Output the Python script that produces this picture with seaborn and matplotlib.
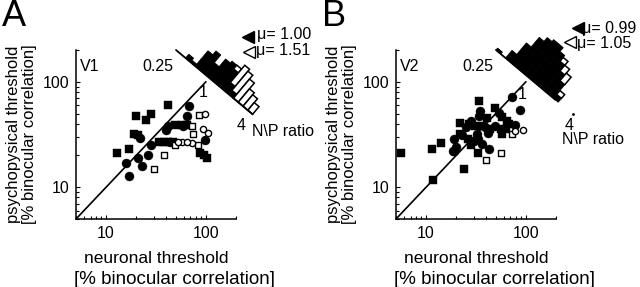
import numpy as np
import pandas as pd
import matplotlib
matplotlib.use("Agg")
import matplotlib.pyplot as plt
import seaborn as sns
from matplotlib.transforms import Affine2D
from matplotlib.ticker import FuncFormatter, NullFormatter, LogLocator

# ---- data --------------------------------------------------------------
# (neuronal threshold, psychophysical threshold) in % binocular correlation
v1_filled_sq = [(42, 60), (20, 47), (28, 50), (25, 43), (19, 32), (21, 31), (13, 21),
                (17, 23), (34, 27), (38, 27), (42, 27), (47, 27), (49, 39), (57, 39),
                (64, 39), (88, 21), (95, 20), (102, 19)]
v1_filled_ci = [(68, 59), (65, 47), (22, 29), (40, 35), (42, 38), (28, 25), (21, 19),
                (16, 17), (23, 16), (26, 20), (17, 12.7), (59, 38), (99, 28), (44, 27)]
v1_open_sq = [(85, 48), (72, 38), (75, 32), (49, 25), (83, 25), (38, 20), (30, 15)]
v1_open_ci = [(99, 49), (93, 36), (104, 33), (72, 26), (58, 27), (52, 27), (64, 27)]

v2_filled_sq = [(5.6, 21), (11.5, 23), (14, 26), (11.6, 11.8), (24, 15), (34, 65), (33, 21),
                (49, 57), (57, 46), (65, 42), (22, 41), (31, 38), (36, 38), (44, 35.5),
                (56, 35.5), (58, 32), (68, 40), (63, 36), (22, 32), (26, 28.5), (28, 25),
                (41, 45), (27, 40)]
v2_filled_ci = [(72, 72), (87, 54), (43, 23), (19, 22), (19, 28.5), (35, 53), (54, 51),
                (28, 42), (25, 37), (39, 37), (49, 38), (78, 39), (23, 31), (30, 27.5),
                (33, 28.5), (36, 25.6), (20, 24), (18.4, 22), (42, 33), (32, 32), (34, 47)]
v2_open_sq = [(40, 18), (56, 21), (72, 32)]
v2_open_ci = [(78, 34), (93, 35)]

# N/P ratio histograms, 16 bins over log2(ratio) from -2 (0.25) to 2 (4)
v1_hist_filled = [0, 0, 2, 1, 8, 10, 6, 10, 11, 9, 4, 2, 0, 0, 0, 0]
v1_hist_open = [0, 0, 0, 0, 0, 0, 0, 0, 0, 2, 9, 10, 10, 7, 6, 4]
v2_hist_filled = [1, 0, 4, 10, 15, 17, 18, 18, 16, 13, 10, 7, 2, 0, 0, 0]
v2_hist_open = [0, 0, 0, 0, 0, 0, 0, 0, 0, 2, 3, 4, 2, 0, 0, 0]

v1_mu = (1.00, 1.51)
v2_mu = (0.99, 1.05)
ratio_labels = ["0.25", "1", "4"]

# ---- style --------------------------------------------------------------
sns.set_style("ticks", {"axes.edgecolor": "black", "xtick.color": "black",
                        "ytick.color": "black", "text.color": "black",
                        "axes.labelcolor": "black"})
plt.rcParams["font.family"] = ["Liberation Sans", "DejaVu Sans"]

W, H = 640, 287
AX_W, AX_H = 160, 169
fig = plt.figure(figsize=(W / 100, H / 100), dpi=100)


def to_df(pts):
    return pd.DataFrame(pts, columns=["neuronal", "psycho"])


def panel(left, letter, area, fsq, fci, osq, oci, hf, ho, mu, pos, short_axis):
    rect = [left / W, (H - 219) / H, AX_W / W, AX_H / H]
    ax = fig.add_axes(rect)
    ax.set_xscale("log")
    ax.set_yscale("log")

    sns.scatterplot(data=to_df(fsq), x="neuronal", y="psycho", marker="s", s=30,
                    color="black", edgecolor="black", linewidth=0.3, ax=ax, zorder=3)
    sns.scatterplot(data=to_df(fci), x="neuronal", y="psycho", marker="o", s=42,
                    color="black", edgecolor="black", linewidth=0.3, ax=ax, zorder=3)
    sns.scatterplot(data=to_df(osq), x="neuronal", y="psycho", marker="s", s=16,
                    color="white", edgecolor="black", linewidth=1.0, ax=ax, zorder=3)
    sns.scatterplot(data=to_df(oci), x="neuronal", y="psycho", marker="o", s=20,
                    color="white", edgecolor="black", linewidth=1.0, ax=ax, zorder=3)

    diag = [5, 100]
    ax.plot(diag, diag, color="black", lw=1.2, zorder=2)

    ax.set_xlim(5, 200)
    ax.set_ylim(5, 200)
    for a in (ax.xaxis, ax.yaxis):
        a.set_major_locator(LogLocator(base=10))
        a.set_major_formatter(FuncFormatter(lambda v, p: f"{v:g}"))
        a.set_minor_locator(LogLocator(base=10, subs=np.arange(2, 10)))
        a.set_minor_formatter(NullFormatter())
    ax.tick_params(which="both", direction="in", width=0.8, labelsize=11.5, pad=5)
    ax.tick_params(which="major", length=3)
    ax.tick_params(which="minor", length=2)
    sns.despine(ax=ax)
    for sp in ("left", "bottom"):
        ax.spines[sp].set_linewidth(1.1)

    ax.set_xlabel("neuronal threshold", fontsize=12.5, labelpad=7)
    ax.text((175 - 76) / AX_W, -(284 - 219) / AX_H, "[% binocular correlation]",
            fontsize=13.5, ha="center", va="baseline", transform=ax.transAxes)
    ax.set_ylabel("psychopysical threshold\n[% binocular correlation]", fontsize=12,
                  linespacing=1.1, labelpad=4)

    # overlay in pixel units for the rotated N/P histogram
    ax2 = fig.add_axes(rect, frameon=False)
    ax2.set_autoscale_on(False)
    ax2.set_xlim(0, AX_W)
    ax2.set_ylim(0, AX_H)
    ax2.axis("off")
    ht = Affine2D().translate(2, 0).scale(25, 2.5).rotate_deg(-40).translate(100, 169) + ax2.transData

    hf = np.array(hf)
    ho = np.array(ho)
    nb = len(hf)
    centers = np.linspace(-2, 2, nb + 1)[:-1] + 2 / nb
    m = hf > 0
    ax2.bar(centers[m], hf[m], width=4 / nb, color="black", edgecolor="black",
            linewidth=0.6, transform=ht, clip_on=False)
    m = ho > 0
    ax2.bar(centers[m], ho[m], bottom=hf[m], width=4 / nb, facecolor="white",
            edgecolor="black", linewidth=1.1, transform=ht, clip_on=False)
    end = 2 if not short_axis else 1.1
    ax2.plot([-2, end], [0, 0], color="black", lw=1.3, transform=ht, clip_on=False)
    if short_axis:
        ax2.plot([2], [0], marker=".", ms=2, color="black", transform=ht, clip_on=False)

    kw = dict(fontsize=11.5, ha="center", va="center", clip_on=False)
    ax2.text(*pos["area"], area, **kw)
    ax2.text(*pos["r0"], ratio_labels[0], **kw)
    ax2.text(*pos["r1"], ratio_labels[1], **kw)
    ax2.text(*pos["r2"], ratio_labels[2], **kw)
    ax2.text(*pos["np"], "N\\P ratio", fontsize=11.5, ha="left", va="center", clip_on=False)

    ax2.plot(*pos["tri_f"], marker="<", ms=8, color="black", clip_on=False)
    ax2.plot(*pos["tri_o"], marker="<", ms=8, mfc="white", mec="black", mew=1.0, clip_on=False)
    ax2.text(*pos["mu_f"], f"\u03bc= {mu[0]:.2f}", fontsize=11.5, ha="left", va="center", clip_on=False)
    ax2.text(*pos["mu_o"], f"\u03bc= {mu[1]:.2f}", fontsize=11.5, ha="left", va="center", clip_on=False)

    fig.text((left - 74) / W, 1 + 1 / H, letter, fontsize=26, ha="left", va="top")


pos_a = {"area": (13.5, 152), "r0": (82, 152), "r1": (127, 126), "r2": (165, 93),
         "np": (176, 88), "tri_f": (172, 182), "tri_o": (173, 167),
         "mu_f": (181, 184), "mu_o": (180, 168)}
pos_b = {"area": (14, 152), "r0": (82, 152), "r1": (126, 124), "r2": (173, 93),
         "np": (166, 79), "tri_f": (182, 191), "tri_o": (174, 177),
         "mu_f": (186, 190), "mu_o": (181, 175)}

panel(76, "A", "V1", v1_filled_sq, v1_filled_ci, v1_open_sq, v1_open_ci,
      v1_hist_filled, v1_hist_open, v1_mu, pos_a, False)
panel(396, "B", "V2", v2_filled_sq, v2_filled_ci, v2_open_sq, v2_open_ci,
      v2_hist_filled, v2_hist_open, v2_mu, pos_b, True)

fig.savefig("out.png", dpi=100)
